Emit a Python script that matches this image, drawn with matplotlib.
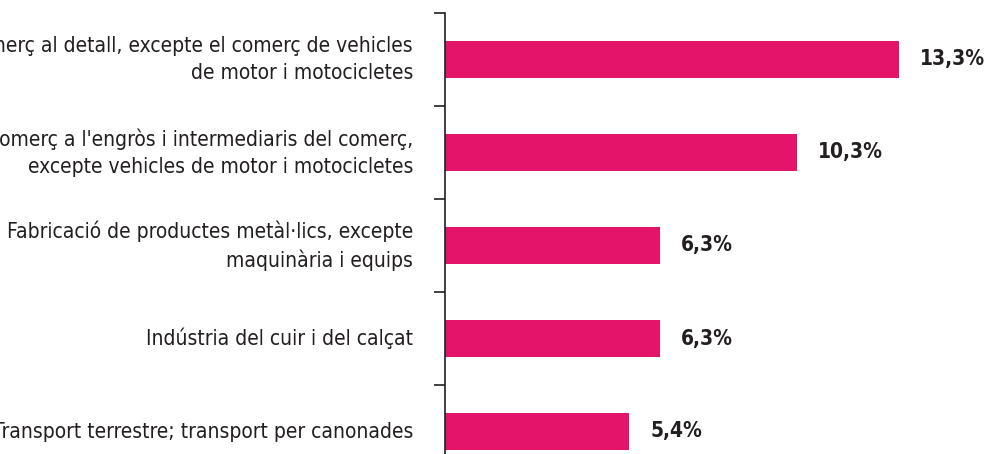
"""
Horizontal bar chart: share by economic activity (top 5).
"""

import matplotlib.pyplot as plt

# Data
categories = [
    "Comerç al detall, excepte el comerç de vehicles\nde motor i motocicletes",
    "Comerç a l'engròs i intermediaris del comerç,\nexcepte vehicles de motor i motocicletes",
    "Fabricació de productes metàl·lics, excepte\nmaquinària i equips",
    "Indústria del cuir i del calçat",
    "Transport terrestre; transport per canonades",
]
values = [13.3, 10.3, 6.3, 6.3, 5.4]
value_labels = ["13,3%", "10,3%", "6,3%", "6,3%", "5,4%"]

bar_color = "#e5146b"
text_color = "#231f20"

plt.rcParams["font.family"] = ["DejaVu Sans"]
plt.rcParams["font.stretch"] = "condensed"

fig = plt.figure(figsize=(9.87, 4.54), dpi=100)
ax = fig.add_axes([445 / 987, 1 - 478 / 454, 1 - 445 / 987, 465 / 454])

y = list(range(len(categories)))
ax.barh(y, values, height=0.39, color=bar_color)

ax.set_ylim(len(categories) - 0.5, -0.5)
ax.set_xlim(0, 541 / 34.1)

# ticks between categories
ax.set_yticks([i - 0.5 for i in range(len(categories) + 1)])
ax.set_yticklabels([])
ax.tick_params(axis="y", length=8, width=1.2, color=text_color, direction="out")
ax.set_xticks([])

for s in ["top", "right", "bottom"]:
    ax.spines[s].set_visible(False)
ax.spines["left"].set_linewidth(1.2)
ax.spines["left"].set_color(text_color)

for yi, label in zip(y, categories):
    ax.annotate(label, xy=(0, yi), xycoords=("axes fraction", "data"),
                xytext=(-32, 0), textcoords="offset pixels",
                ha="right", va="center", fontsize=15, color=text_color,
                linespacing=1.45, annotation_clip=False)

for yi, v, lab in zip(y, values, value_labels):
    ax.annotate(lab, xy=(v, yi), xytext=(21, 0), textcoords="offset pixels",
                ha="left", va="center", fontsize=15, fontweight="bold",
                color=text_color)

fig.savefig("out.png", dpi=100)
